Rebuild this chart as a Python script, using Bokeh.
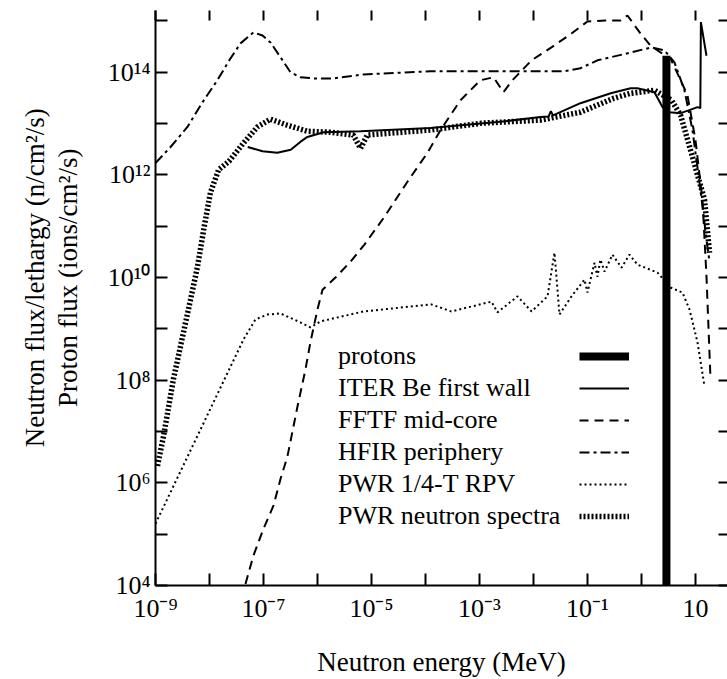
from bokeh.plotting import figure
from bokeh.models import (LogAxis, FixedTicker, Range1d, Legend, LegendItem,
                          CustomJSTickFormatter)
from bokeh.embed import file_html
from bokeh.resources import INLINE

FONT = "Liberation Serif"

# ---------------- data (energy in MeV, flux) ----------------
proton_energy = [2.9, 2.9]
proton_flux = [1e4, 2.1e14]

iter_energy = [5.1e-8, 9.6e-8, 1.8e-7, 3.2e-7, 4.8e-7, 6.5e-7, 1.3e-6, 6.3e-6,
               1.24e-4, 2.15e-3, 1.35e-2, 1.9e-2, 2.1e-2, 2.3e-2, 7.4e-2, 0.27,
               0.63, 0.84, 1.74, 2.45, 3.3, 5.3, 7.7, 10.9, 12.3, 12.6, 16.0]
iter_flux = [3.5e12, 2.9e12, 2.7e12, 3.1e12, 4.4e12, 5.5e12, 6.8e12, 7.1e12,
             8.2e12, 1.07e13, 1.34e13, 1.37e13, 1.75e13, 1.45e13, 2.5e13, 3.9e13,
             4.9e13, 4.9e13, 4.1e13, 2.1e13, 1.67e13, 1.6e13, 1.83e13, 2.1e13,
             2.0e13, 9.5e14, 2.1e14]

fftf_energy = [3.9e-8, 6.5e-8, 1.0e-7, 1.53e-7, 2.07e-7, 2.78e-7, 4.27e-7, 6.0e-7,
               7.4e-7, 1.0e-6, 1.24e-6, 2.15e-6, 4.1e-6, 7.4e-6, 1.74e-5, 4.6e-5,
               1.09e-4, 1.9e-4, 4.45e-4, 1.04e-3, 1.82e-3, 2.78e-3, 4.08e-3, 9.2e-3,
               2.15e-2, 5.06e-2, 0.1, 0.215, 0.41, 0.55, 0.96, 1.47, 2.25, 3.44,
               5.3, 7.1, 10.0, 13.5, 16.0, 19.0]
fftf_flux = [5.6e3, 3.8e4, 1.28e5, 3.6e5, 1.2e6, 3.3e6, 3.1e7, 1.64e8,
             5.5e8, 2.4e9, 5.8e9, 1.0e10, 2.05e10, 4.4e10, 1.53e11, 7.3e11,
             2.7e12, 7.5e12, 2.86e13, 7.0e13, 8.0e13, 4.1e13, 7.0e13, 1.71e14,
             3.06e14, 5.7e14, 9.8e14, 1.02e15, 1.02e15, 1.28e15, 5.7e14, 3.3e14,
             2.44e14, 1.87e14, 7.0e13, 3.6e13, 4.8e12, 3.2e11, 1.05e10, 1.05e8]

hfir_energy = [1e-9, 1.9e-9, 3.9e-9, 7.4e-9, 1.4e-8, 2.45e-8, 3.75e-8, 6.5e-8,
               9.6e-8, 1.35e-7, 2.07e-7, 3.16e-7, 4.8e-7, 8.4e-7, 1.98e-6, 7.1e-6,
               1.24e-4, 3.75e-2, 7.4e-2, 0.153, 0.65, 1.53, 2.67, 4.08, 6.25, 8.8,
               12.4, 16.0, 18.2]
hfir_flux = [1.71e12, 3.5e12, 8.6e12, 2.6e13, 7.0e13, 1.87e14, 3.66e14, 6.0e14,
             5.2e14, 3.8e14, 1.96e14, 1.0e14, 8.0e13, 7.6e13, 7.6e13, 9.1e13,
             1.05e14, 1.05e14, 1.2e14, 1.71e14, 2.44e14, 3.06e14, 2.67e14, 1.56e14,
             4.47e13, 7.5e12, 5.1e11, 5.5e10, 2.05e10]

rpv_energy = [1e-9, 4.27e-8, 7.1e-8, 1.19e-7, 2.07e-7, 4.8e-7, 7.4e-7, 1.14e-6,
              7.1e-6, 1.29e-4, 3.0e-4, 1.67e-3, 2.15e-3, 5.06e-3, 9.2e-3, 1.82e-2,
              2.45e-2, 3.03e-2, 5.06e-2, 8.8e-2, 0.1, 0.135, 0.153, 0.174, 0.207,
              0.29, 0.427, 0.6, 0.84, 1.98, 3.44, 5.74, 7.74, 10.9, 14.7]
rpv_flux = [1.6e5, 6.25e8, 1.53e9, 1.91e9, 2.0e9, 1.34e9, 1.07e9, 1.4e9,
            2.19e9, 3.0e9, 2.19e9, 3.4e9, 2.1e9, 4.3e9, 2.19e9, 4.3e9,
            3.06e10, 1.91e9, 4.3e9, 9.1e9, 5.1e9, 1.95e10, 1.04e10, 2.24e10, 1.31e10,
            2.8e10, 1.56e10, 2.8e10, 1.79e10, 1.25e10, 6.4e9, 5.1e9, 2.4e9, 5.5e8, 7.6e7]

pwr_energy = [1.09e-9, 1.41e-9, 2.15e-9, 3.3e-9, 4.45e-9, 6.0e-9, 8.1e-9, 1.04e-8,
              1.47e-8, 2.3e-8, 4.27e-8, 7.7e-8, 1.35e-7, 2.78e-7, 6.5e-7, 1.74e-6,
              4.6e-6, 6.25e-6, 8.4e-6, 1.24e-4, 1.09e-3, 1.35e-2, 7.4e-2, 0.303,
              0.625, 1.74, 3.6, 5.3, 8.1, 14.7, 18.2]
pwr_flux = [2.14e6, 8.2e6, 1.05e8, 8.6e8, 3.7e9, 1.64e10, 1.07e11, 4.5e11,
            1.25e12, 1.85e12, 4.2e12, 8.6e12, 1.22e13, 9.3e12, 7.1e12, 6.8e12,
            6.0e12, 3.3e12, 6.0e12, 7.5e12, 1.02e13, 1.17e13, 1.67e13, 3.1e13,
            3.9e13, 4.47e13, 2.86e13, 1.46e13, 3.06e12, 3.3e11, 3.06e10]

legend_labels = ["protons", "ITER Be first wall", "FFTF mid-core",
                 "HFIR periphery", "PWR 1/4-T RPV", "PWR neutron spectra"]

x_ticks = [1e-9, 1e-8, 1e-7, 1e-6, 1e-5, 1e-4, 1e-3, 1e-2, 1e-1, 1e0, 1e1]
x_tick_exps = [-9, -7, -5, -3, -1, 1]
x_tick_text = ["10\u207b\u2079", "10\u207b\u2077", "10\u207b\u2075",
               "10\u207b\u00b3", "10\u207b\u00b9", "10"]
y_ticks = [1e4, 1e5, 1e6, 1e7, 1e8, 1e9, 1e10, 1e11, 1e12, 1e13, 1e14, 1e15]
y_tick_exps = [4, 6, 8, 10, 12, 14]
y_tick_text = ["10\u2074", "10\u2076", "10\u2078", "10\u00b9\u2070",
               "10\u00b9\u00b2", "10\u00b9\u2074"]

x_title = "Neutron energy (MeV)"
y_title_lines = ["Neutron flux/lethargy (n/cm\u00b2/s)", "Proton flux (ions/cm\u00b2/s)"]

# ---------------- figure ----------------
p = figure(width=727, height=679, x_axis_type="log", y_axis_type="log",
           x_range=Range1d(1e-9, 39.2), y_range=Range1d(1e4, 1.6e15),
           output_backend="svg", toolbar_location=None,
           min_border_left=155, min_border_right=0, min_border_top=10,
           min_border_bottom=92)
p.grid.visible = False
p.outline_line_color = None
p.background_fill_color = "white"
p.border_fill_color = "white"

fmt_code = ("const e = Math.round(Math.log10(tick));"
            "const i = exps.indexOf(e); return i < 0 ? '' : texts[i];")

xa = p.xaxis[0]
xa.ticker = FixedTicker(ticks=x_ticks, minor_ticks=[])
xa.formatter = CustomJSTickFormatter(args=dict(exps=x_tick_exps, texts=x_tick_text), code=fmt_code)
ya = p.yaxis[0]
ya.ticker = FixedTicker(ticks=y_ticks, minor_ticks=[])
ya.formatter = CustomJSTickFormatter(args=dict(exps=y_tick_exps, texts=y_tick_text), code=fmt_code)

for ax in (xa, ya):
    ax.major_tick_in = 12
    ax.major_tick_out = 0
    ax.minor_tick_in = 0
    ax.minor_tick_out = 0
    ax.axis_line_width = 2
    ax.major_tick_line_width = 2
    ax.axis_line_color = "black"
    ax.major_tick_line_color = "black"
    ax.major_label_text_font = FONT
    ax.major_label_text_font_size = "26px"
    ax.major_label_text_color = "black"
    ax.axis_label_text_font = FONT
    ax.axis_label_text_font_size = "27px"
    ax.axis_label_text_font_style = "normal"
    ax.axis_label_text_color = "black"

xa.axis_label = x_title
xa.major_label_standoff = 8
xa.axis_label_standoff = 21
# leading no-break spaces lift the rotated label a little above the frame centre
lift = "\u00a0" * 6
ya.axis_label = "\n".join(lift + s for s in y_title_lines)
ya.major_label_standoff = 5
ya.axis_label_standoff = 22
ya.axis_label_text_line_height = 1.1

blank = "return '';"
top_axis = LogAxis(ticker=FixedTicker(ticks=x_ticks, minor_ticks=[]),
                   formatter=CustomJSTickFormatter(code=blank),
                   major_label_text_font_size="1px", major_label_standoff=0,
                   major_tick_in=10, major_tick_out=0, minor_tick_in=0, minor_tick_out=0,
                   axis_line_color=None, major_tick_line_width=2,
                   major_tick_line_color="black")
p.add_layout(top_axis, "above")
right_axis = LogAxis(ticker=FixedTicker(ticks=y_ticks, minor_ticks=[]),
                     formatter=CustomJSTickFormatter(code=blank),
                     major_label_text_font_size="1px", major_label_standoff=0,
                     major_tick_in=9, major_tick_out=0, minor_tick_in=0, minor_tick_out=0,
                     axis_line_color=None, major_tick_line_width=2,
                     major_tick_line_color="black")
p.add_layout(right_axis, "right")

# ---------------- curves ----------------
r_prot = p.line(proton_energy, proton_flux, line_color="black", line_width=8)
r_iter = p.line(iter_energy, iter_flux, line_color="black", line_width=2)
r_fftf = p.line(fftf_energy, fftf_flux, line_color="black", line_width=2,
                line_dash="9 6")
r_hfir = p.line(hfir_energy, hfir_flux, line_color="black", line_width=2,
                line_dash="10 4 3 4")
r_rpv = p.line(rpv_energy, rpv_flux, line_color="black", line_width=2,
               line_dash="2 3")
r_pwr = p.line(pwr_energy, pwr_flux, line_color="black", line_width=5.5,
               line_dash="2 2")
renderers = [r_prot, r_iter, r_fftf, r_hfir, r_rpv, r_pwr]

# legend: texts on the left, line samples on the right
dummy = p.line([], [], line_alpha=0)
common = dict(glyph_height=30, label_height=30, label_standoff=0, spacing=2,
              padding=0, margin=0, border_line_color=None,
              background_fill_alpha=0, label_text_font=FONT,
              label_text_font_size="26px", label_text_color="black")
text_legend = Legend(items=[LegendItem(label=lab, renderers=[dummy])
                            for lab in legend_labels],
                     location=(182, 54), glyph_width=1, **common)
glyph_legend = Legend(items=[LegendItem(label=" ", renderers=[r])
                             for r in renderers],
                      location=(424, 54), glyph_width=50, **common)
p.add_layout(text_legend)
p.add_layout(glyph_legend)

open("out.html", "w", encoding="utf-8").write(file_html(p, INLINE))
